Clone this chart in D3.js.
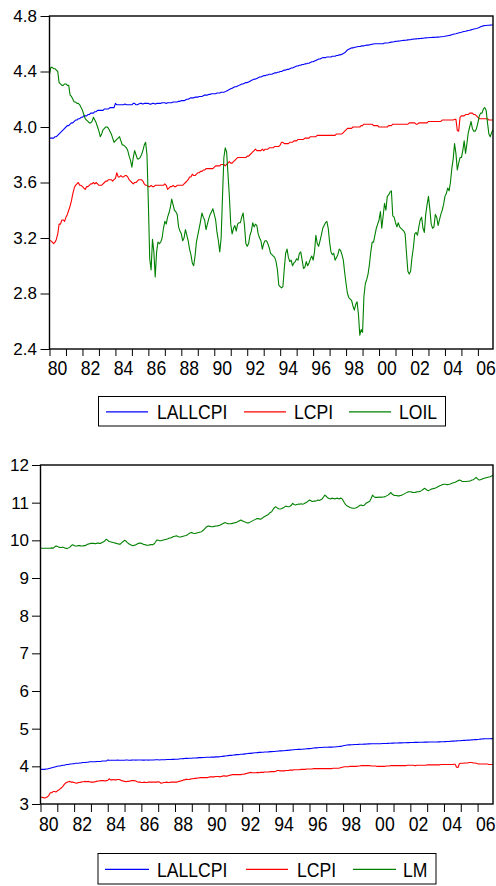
<!DOCTYPE html>
<html>
<head>
<meta charset="utf-8">
<script src="https://cdn.jsdelivr.net/npm/d3@7"></script>
<style>
  html, body { margin: 0; padding: 0; background: #fff; }
  svg text { font-family: "Liberation Sans", Arial, Helvetica, sans-serif; fill: #000; }
</style>
</head>
<body>
<svg id="chart" width="496" height="886"></svg>
<script>
// Monthly observations, 1980M01 .. 2006M12 (324 per series)
const firstYear = 1980;
const tickYears = d3.range(1980, 2007);
const yearLabels = ["80","82","84","86","88","90","92","94","96","98","00","02","04","06"];
const topYTicks = [2.4, 2.8, 3.2, 3.6, 4.0, 4.4, 4.8];
const bottomYTicks = [3, 4, 5, 6, 7, 8, 9, 10, 11, 12];

const lallcpi = [
  3.92,3.92,3.92,3.92,3.93,3.93,3.94,3.95,3.96,3.97,3.98,3.99,
  4.00,4.01,4.01,4.02,4.03,4.03,4.04,4.05,4.05,4.06,4.06,4.07,
  4.07,4.08,4.08,4.08,4.09,4.09,4.10,4.10,4.10,4.11,4.11,4.12,
  4.12,4.12,4.12,4.12,4.13,4.13,4.13,4.13,4.14,4.14,4.14,4.14,
  4.17,4.16,4.16,4.16,4.16,4.16,4.16,4.165,4.16,4.16,4.16,4.16,
  4.16,4.17,4.17,4.16,4.16,4.165,4.17,4.17,4.165,4.17,4.17,4.17,
  4.17,4.165,4.165,4.17,4.17,4.165,4.17,4.17,4.17,4.17,4.175,4.175,
  4.175,4.17,4.175,4.175,4.175,4.175,4.18,4.18,4.18,4.18,4.185,4.185,
  4.19,4.19,4.19,4.195,4.2,4.2,4.205,4.21,4.21,4.21,4.215,4.215,
  4.215,4.22,4.22,4.22,4.225,4.23,4.23,4.23,4.235,4.235,4.24,4.24,
  4.24,4.24,4.245,4.245,4.245,4.25,4.25,4.25,4.255,4.26,4.265,4.27,
  4.275,4.28,4.285,4.29,4.29,4.295,4.30,4.305,4.31,4.31,4.315,4.32,
  4.32,4.325,4.33,4.335,4.34,4.345,4.345,4.35,4.355,4.36,4.36,4.365,
  4.37,4.37,4.375,4.375,4.38,4.38,4.38,4.385,4.39,4.39,4.395,4.395,
  4.40,4.40,4.405,4.41,4.41,4.415,4.415,4.42,4.425,4.425,4.43,4.435,
  4.44,4.44,4.445,4.445,4.45,4.45,4.455,4.455,4.46,4.46,4.465,4.47,
  4.47,4.475,4.48,4.485,4.49,4.49,4.495,4.50,4.50,4.50,4.505,4.505,
  4.505,4.505,4.51,4.51,4.51,4.515,4.515,4.52,4.52,4.525,4.53,4.535,
  4.545,4.555,4.56,4.565,4.57,4.57,4.575,4.575,4.578,4.58,4.58,4.583,
  4.585,4.585,4.588,4.59,4.59,4.592,4.595,4.597,4.598,4.60,4.60,4.60,
  4.60,4.60,4.60,4.60,4.605,4.605,4.605,4.607,4.61,4.612,4.613,4.615,
  4.617,4.618,4.619,4.62,4.622,4.623,4.624,4.625,4.626,4.628,4.629,4.63,
  4.632,4.633,4.634,4.635,4.636,4.637,4.638,4.639,4.64,4.641,4.642,4.643,
  4.643,4.645,4.645,4.646,4.646,4.647,4.648,4.648,4.649,4.65,4.651,4.652,
  4.654,4.656,4.658,4.66,4.662,4.665,4.668,4.67,4.672,4.675,4.678,4.681,
  4.683,4.686,4.688,4.69,4.693,4.695,4.697,4.70,4.703,4.706,4.708,4.71,
  4.713,4.717,4.722,4.726,4.729,4.731,4.732,4.733,4.733,4.734,4.735,4.735
];

const lcpi = [
  3.18,3.18,3.17,3.16,3.17,3.19,3.23,3.30,3.30,3.33,3.33,3.32,
  3.35,3.37,3.40,3.43,3.47,3.52,3.56,3.58,3.59,3.60,3.58,3.58,
  3.57,3.56,3.55,3.57,3.57,3.58,3.59,3.59,3.60,3.59,3.60,3.59,
  3.58,3.58,3.58,3.59,3.60,3.61,3.61,3.62,3.62,3.62,3.61,3.62,
  3.63,3.67,3.64,3.64,3.65,3.64,3.64,3.65,3.65,3.64,3.62,3.61,
  3.60,3.59,3.60,3.60,3.61,3.62,3.62,3.62,3.61,3.59,3.58,3.58,
  3.57,3.57,3.58,3.57,3.57,3.58,3.58,3.58,3.58,3.58,3.58,3.58,
  3.59,3.58,3.55,3.56,3.57,3.57,3.58,3.57,3.57,3.58,3.58,3.58,
  3.58,3.58,3.59,3.60,3.61,3.62,3.64,3.64,3.66,3.65,3.65,3.66,
  3.67,3.67,3.68,3.68,3.69,3.69,3.70,3.70,3.70,3.70,3.70,3.70,
  3.71,3.72,3.72,3.72,3.72,3.73,3.73,3.73,3.72,3.73,3.74,3.75,
  3.74,3.74,3.75,3.76,3.77,3.78,3.78,3.78,3.78,3.78,3.78,3.78,
  3.79,3.79,3.80,3.81,3.82,3.83,3.84,3.83,3.83,3.83,3.83,3.84,
  3.83,3.84,3.84,3.84,3.85,3.85,3.85,3.85,3.86,3.86,3.86,3.86,
  3.87,3.89,3.89,3.88,3.88,3.88,3.88,3.89,3.89,3.89,3.90,3.90,
  3.90,3.91,3.91,3.91,3.91,3.91,3.92,3.92,3.92,3.92,3.93,3.93,
  3.93,3.93,3.93,3.94,3.94,3.94,3.94,3.94,3.94,3.94,3.94,3.94,
  3.94,3.94,3.94,3.94,3.94,3.95,3.95,3.95,3.95,3.95,3.96,3.97,
  3.98,3.99,3.99,3.99,3.99,4.00,4.00,4.00,4.00,4.00,4.00,4.01,
  4.01,4.02,4.02,4.02,4.02,4.02,4.02,4.02,4.01,4.01,4.01,4.01,
  4.00,4.00,4.00,4.00,4.00,4.00,4.00,4.01,4.01,4.01,4.02,4.02,
  4.02,4.02,4.02,4.02,4.02,4.02,4.02,4.02,4.02,4.02,4.03,4.03,
  4.03,4.03,4.03,4.02,4.02,4.03,4.03,4.03,4.03,4.03,4.03,4.03,
  4.04,4.04,4.04,4.04,4.04,4.04,4.04,4.04,4.04,4.04,4.05,4.05,
  4.05,4.05,4.05,4.05,4.05,4.05,4.05,4.055,4.055,3.975,3.97,4.07,
  4.08,4.08,4.08,4.09,4.09,4.09,4.10,4.10,4.10,4.09,4.09,4.08,
  4.07,4.06,4.06,4.06,4.06,4.06,4.06,4.06,4.05,4.05,4.05,4.05
];

const loil = [
  4.38,4.43,4.43,4.42,4.42,4.41,4.40,4.32,4.31,4.30,4.30,4.31,
  4.31,4.30,4.30,4.23,4.22,4.20,4.18,4.18,4.17,4.17,4.16,4.14,
  4.12,4.09,4.06,4.05,4.04,4.03,4.03,4.04,4.07,4.05,4.03,4.00,
  3.97,3.93,3.95,3.98,3.99,4.00,4.00,3.99,3.97,3.95,3.92,3.89,
  3.90,3.91,3.92,3.93,3.90,3.87,3.87,3.86,3.85,3.83,3.79,3.76,
  3.71,3.78,3.83,3.80,3.77,3.77,3.78,3.80,3.83,3.87,3.89,3.80,
  3.45,3.05,2.97,3.19,3.10,2.92,3.10,3.17,3.16,3.17,3.20,3.27,
  3.32,3.30,3.35,3.38,3.42,3.48,3.44,3.40,3.39,3.37,3.28,3.25,
  3.23,3.18,3.20,3.26,3.22,3.18,3.12,3.08,3.02,3.00,3.07,3.17,
  3.22,3.27,3.32,3.38,3.35,3.33,3.26,3.30,3.34,3.37,3.39,3.41,
  3.37,3.33,3.24,3.18,3.10,3.20,3.50,3.78,3.85,3.82,3.66,3.50,
  3.30,3.23,3.27,3.29,3.25,3.30,3.31,3.31,3.35,3.38,3.29,3.16,
  3.14,3.16,3.22,3.25,3.31,3.28,3.30,3.29,3.23,3.20,3.18,3.12,
  3.16,3.18,3.18,3.16,3.13,3.09,3.08,3.07,3.06,3.03,2.97,2.86,
  2.85,2.84,2.85,2.98,3.09,3.12,3.06,3.03,3.04,3.00,3.02,3.03,
  3.05,3.04,3.09,3.10,3.04,2.98,2.99,3.03,3.00,3.02,3.05,3.07,
  3.04,3.10,3.22,3.16,3.14,3.18,3.22,3.27,3.29,3.31,3.32,3.27,
  3.17,3.10,3.08,3.09,3.04,3.06,3.08,3.12,3.11,3.08,3.04,2.95,
  2.87,2.80,2.77,2.76,2.75,2.71,2.68,2.72,2.74,2.65,2.50,2.54,
  2.52,2.78,2.87,2.90,2.94,3.01,3.10,3.17,3.17,3.22,3.27,3.30,
  3.33,3.39,3.27,3.36,3.45,3.40,3.50,3.51,3.53,3.54,3.36,3.35,
  3.31,3.28,3.31,3.28,3.27,3.26,3.25,3.23,3.09,2.96,2.94,2.96,
  3.06,3.13,3.23,3.24,3.22,3.28,3.33,3.35,3.27,3.24,3.37,3.44,
  3.50,3.41,3.30,3.27,3.28,3.37,3.35,3.29,3.33,3.37,3.40,3.44,
  3.50,3.52,3.56,3.54,3.60,3.70,3.77,3.88,3.81,3.69,3.74,3.78,
  3.78,3.83,3.90,3.81,3.88,3.96,4.00,4.04,3.99,3.97,3.97,3.99,
  4.03,4.08,4.10,4.10,4.13,4.14,4.12,4.03,3.95,3.93,3.96,3.98
];

const lm = [
  9.79,9.79,9.79,9.79,9.79,9.79,9.79,9.79,9.80,9.79,9.82,9.85,
  9.84,9.82,9.81,9.81,9.82,9.80,9.79,9.78,9.80,9.82,9.86,9.88,
  9.86,9.85,9.85,9.86,9.86,9.85,9.85,9.86,9.86,9.88,9.90,9.91,
  9.92,9.92,9.92,9.91,9.92,9.93,9.92,9.92,9.94,9.96,9.99,10.03,
  10.00,9.97,9.96,9.95,9.94,9.93,9.92,9.91,9.90,9.90,9.94,9.97,
  10.00,9.98,9.94,9.91,9.89,9.87,9.86,9.87,9.88,9.90,9.92,9.93,
  9.92,9.90,9.89,9.88,9.87,9.87,9.88,9.89,9.88,9.90,9.95,10.01,
  10.00,9.99,9.99,10.00,10.01,10.02,10.03,10.04,10.06,10.06,10.08,10.10,
  10.11,10.12,10.10,10.09,10.09,10.10,10.11,10.12,10.13,10.15,10.18,10.20,
  10.21,10.19,10.18,10.19,10.20,10.21,10.22,10.23,10.26,10.30,10.34,10.37,
  10.38,10.37,10.36,10.36,10.37,10.38,10.38,10.39,10.40,10.42,10.44,10.46,
  10.47,10.45,10.44,10.44,10.44,10.45,10.46,10.47,10.48,10.50,10.52,10.54,
  10.52,10.50,10.49,10.47,10.46,10.47,10.49,10.51,10.53,10.55,10.57,10.58,
  10.57,10.56,10.58,10.61,10.63,10.65,10.67,10.70,10.74,10.76,10.82,10.87,
  10.89,10.86,10.84,10.83,10.84,10.86,10.88,10.91,10.90,10.89,10.90,10.93,
  10.98,10.95,10.94,10.95,10.96,10.96,10.97,10.96,10.97,10.99,11.01,11.04,
  11.07,11.05,11.03,11.04,11.04,11.05,11.07,11.06,11.08,11.10,11.15,11.20,
  11.17,11.13,11.11,11.10,11.12,11.11,11.10,11.11,11.12,11.10,11.12,11.11,
  11.06,10.99,10.94,10.91,10.89,10.87,10.86,10.85,10.85,10.86,10.88,10.90,
  10.93,10.94,10.92,10.93,10.97,11.00,11.02,11.04,11.11,11.20,11.16,11.14,
  11.14,11.14,11.15,11.14,11.15,11.15,11.16,11.18,11.20,11.23,11.27,11.23,
  11.20,11.19,11.19,11.18,11.18,11.19,11.20,11.22,11.24,11.26,11.28,11.29,
  11.29,11.28,11.27,11.27,11.28,11.29,11.29,11.30,11.32,11.35,11.38,11.36,
  11.33,11.32,11.34,11.36,11.37,11.38,11.39,11.41,11.43,11.45,11.46,11.48,
  11.49,11.49,11.48,11.48,11.49,11.50,11.52,11.53,11.54,11.56,11.58,11.60,
  11.59,11.56,11.56,11.56,11.56,11.57,11.57,11.58,11.60,11.61,11.64,11.67,
  11.63,11.60,11.61,11.62,11.64,11.65,11.66,11.67,11.68,11.69,11.71,11.73
];

const BLUE = "#0000ff", RED = "#ff0000", GREEN = "#008000";
const svg = d3.select("#chart");

function drawPanel(cfg) {
  const n = cfg.series[0].values.length;
  const x = d3.scaleLinear().domain([0, n - 1]).range([cfg.left, cfg.right]);
  const y = d3.scaleLinear().domain(cfg.yDomain).range([cfg.bottom, cfg.top]);
  const g = svg.append("g");

  // series lines
  const line = d3.line().x((d, i) => x(i)).y(d => y(d));
  cfg.series.forEach(s => {
    g.append("path")
      .datum(s.values)
      .attr("fill", "none")
      .style("stroke", s.color)
      .attr("stroke-width", 1.1)
      .attr("stroke-linejoin", "round")
      .attr("d", line);
  });

  // yearly tick marks on the date axis
  const tickIdx = tickYears.map(yr => (yr - firstYear) * 12);
  g.append("g")
    .attr("transform", `translate(0,${cfg.bottom})`)
    .call(d3.axisBottom(x).tickValues(tickIdx).tickSize(cfg.xTickLen).tickFormat(""))
    .call(a => a.select(".domain").remove())
    .call(a => a.selectAll(".tick line").attr("stroke", "#000"));

  // two-year labels centred within their year
  const labelIdx = yearLabels.map((_, k) => k * 24 + 5.5);
  g.append("g")
    .attr("transform", `translate(0,${cfg.bottom})`)
    .call(d3.axisBottom(x).tickValues(labelIdx).tickSize(0).tickPadding(cfg.xLabelPad)
      .tickFormat((d, i) => yearLabels[i]))
    .call(a => a.select(".domain").remove())
    .call(a => a.selectAll(".tick text")
      .attr("font-size", 21)
      .attr("transform", "scale(0.84,1)")
      .attr("fill", "#000"));

  // value axis
  g.append("g")
    .attr("transform", `translate(${cfg.left},0)`)
    .call(d3.axisLeft(y).tickValues(cfg.yTicks).tickSize(cfg.yTickLen).tickPadding(cfg.yLabelPad)
      .tickFormat(cfg.yFormat))
    .call(a => a.select(".domain").remove())
    .call(a => a.selectAll(".tick line").attr("stroke", "#000"))
    .call(a => a.selectAll(".tick text").attr("font-size", 17).attr("fill", "#000"));

  // frame
  g.append("rect")
    .attr("x", cfg.left).attr("y", cfg.top)
    .attr("width", cfg.right - cfg.left).attr("height", cfg.bottom - cfg.top)
    .attr("fill", "none").attr("stroke", "#000").attr("stroke-width", 1.4);

  // legend
  const L = cfg.legend;
  const lg = svg.append("g").attr("class", "legend");
  lg.append("rect")
    .attr("x", L.x).attr("y", L.y).attr("width", L.w).attr("height", L.h)
    .attr("fill", "#fff").attr("stroke", "#000").attr("stroke-width", 1);
  cfg.series.forEach((s, i) => {
    const it = L.items[i];
    lg.append("path")
      .attr("d", `M${it.x1},${L.lineY}H${it.x2}`)
      .attr("fill", "none")
      .style("stroke", s.color)
      .style("stroke-width", "1.3px");
    lg.append("text")
      .attr("transform", `translate(${it.tx},${L.baseY}) scale(0.88,1)`)
      .attr("font-size", 20)
      .text(s.name);
  });
}

drawPanel({
  left: 49.5, right: 493, top: 16, bottom: 349,
  yDomain: [2.4, 4.8], yTicks: topYTicks, yFormat: d3.format(".1f"),
  yTickLen: 9, yLabelPad: 3.5, xTickLen: 7, xLabelPad: 11.5,
  series: [
    { name: "LALLCPI", values: lallcpi, color: BLUE },
    { name: "LCPI", values: lcpi, color: RED },
    { name: "LOIL", values: loil, color: GREEN }
  ],
  legend: {
    x: 98.5, y: 396.5, w: 347, h: 29.5, lineY: 411.9, baseY: 419.3,
    items: [
      { x1: 106, x2: 148, tx: 157 },
      { x1: 244, x2: 286, tx: 294 },
      { x1: 349, x2: 391, tx: 399 }
    ]
  }
});

drawPanel({
  left: 40.5, right: 493, top: 465, bottom: 804,
  yDomain: [3, 12], yTicks: bottomYTicks, yFormat: d3.format("d"),
  yTickLen: 8.5, yLabelPad: 3, xTickLen: 8, xLabelPad: 12.5,
  series: [
    { name: "LALLCPI", values: lallcpi, color: BLUE },
    { name: "LCPI", values: lcpi, color: RED },
    { name: "LM", values: lm, color: GREEN }
  ],
  legend: {
    x: 98, y: 853.5, w: 338, h: 30.5, lineY: 869.3, baseY: 877.3,
    items: [
      { x1: 105, x2: 149, tx: 157 },
      { x1: 246, x2: 288, tx: 297 },
      { x1: 353, x2: 396, tx: 403 }
    ]
  }
});
</script>
</body>
</html>
